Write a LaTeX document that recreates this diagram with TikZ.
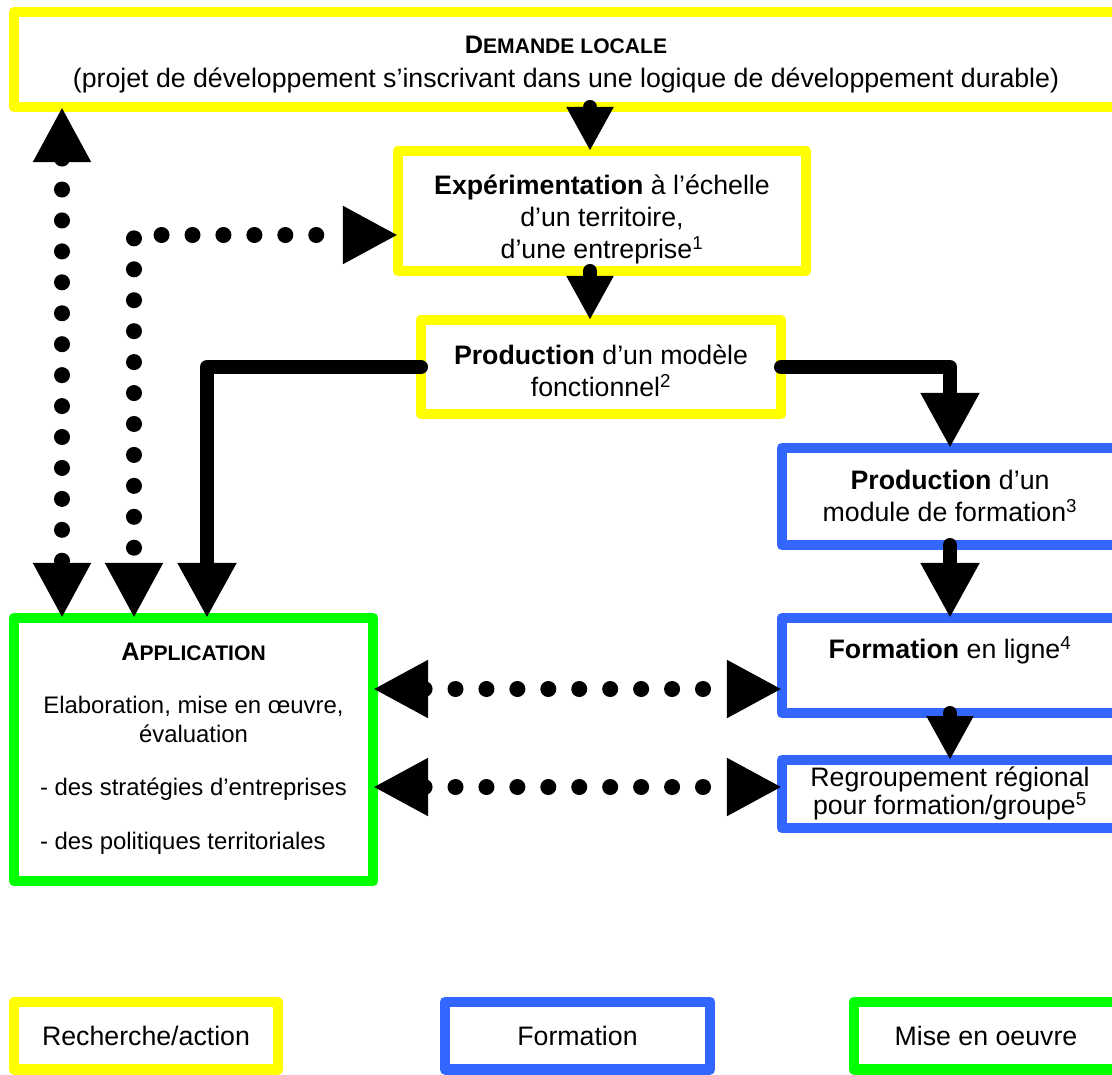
\documentclass[tikz,border=0pt]{standalone}
\usepackage{fontspec}
\setmainfont{Liberation Sans}
\usetikzlibrary{arrows.meta, positioning}
\definecolor{jaune}{RGB}{255,255,0}
\definecolor{bleu}{RGB}{51,102,255}
\definecolor{vert}{RGB}{0,255,0}
\newcommand{\petitcap}[2]{\textbf{{\fontsize{18}{21}\selectfont #1}{\fontsize{15}{18}\selectfont #2}}}
\tikzset{
	bloc/.style={draw=#1, line width=7.8pt, line join=round, fill=white, outer sep=0pt, inner sep=0pt, font=\fontsize{19}{22.8}\selectfont},
	taille/.style 2 args={minimum width=#1*0.025cm, minimum height=#2*0.025cm},
	fleche/.style={line width=10pt, line cap=round, line join=round, -{Triangle[length=1.375cm,width=1.375cm]}},
	petitefleche/.style={line width=10pt, line cap=round, -{Triangle[length=1.1cm,width=1.1cm]}},
	pointilles/.style={line width=11.4pt, line cap=round, dash pattern=on 0pt off 22pt, {Triangle[length=1.375cm,width=1.35cm]}-{Triangle[length=1.375cm,width=1.35cm]}}
}

\begin{document}
\begin{tikzpicture}[x=0.025cm, y=-0.025cm]
		\useasboundingbox (0,0) rectangle (1112,1074);
		
		\node[bloc=jaune, taille={1104}{95}] (demande) at (566,59.5){\begin{tabular}{c}\rule{0pt}{22.4pt}\petitcap{D}{EMANDE LOCALE}\\[1pt](projet de développement s’inscrivant dans une logique de développement durable)\end{tabular}};
		\node[bloc=jaune, taille={408}{120}] (experim) at (602,211){\begin{tabular}{c}\rule{0pt}{28.8pt}\textbf{Expérimentation} à l’échelle\\d’un territoire,\\d’une entreprise\textsuperscript{1}\end{tabular}};
		\node[bloc=jaune, taille={360}{94}] (prodmod) at (601,367){\begin{tabular}{c}\rule{0pt}{26pt}\textbf{Production} d’un modèle\\fonctionnel\textsuperscript{2}\end{tabular}};
		
		\node[bloc=bleu, taille={336}{97}] (prodform) at (950,496.5){\begin{tabular}{c}\rule{0pt}{20pt}\textbf{Production} d’un\\module de formation\textsuperscript{3}\end{tabular}};
		\node[bloc=bleu, taille={336}{95}] (enligne) at (950,665.5){\begin{tabular}{c}\rule{0pt}{20pt}\textbf{Formation} en ligne\textsuperscript{4}\\ \mbox{}\end{tabular}};
		\node[bloc=bleu, taille={336}{68}] (regroup) at (950,794){\begin{tabular}{c}Regroupement régional\\[-3pt]pour formation/groupe\textsuperscript{5}\end{tabular}};
		
		\node[bloc=vert, taille={359}{263}, font=\fontsize{17}{20.6}\selectfont] (appli) at (193.5,749.5){\begin{tabular}{c}\petitcap{A}{PPLICATION}\\[17pt]Elaboration, mise en œuvre,\\évaluation\\[17pt]\begin{tabular}[t]{@{}l@{}}- des stratégies d’entreprises\\[18pt]- des politiques territoriales\end{tabular}\end{tabular}};
		
		% legende
		\node[bloc=jaune, taille={264}{67}] (legrech) at (146,1035.5){Recherche/action};
		\node[bloc=bleu, taille={265}{67}] (legform) at (577.5,1035.5){Formation};
		\node[bloc=vert, taille={264}{67}] (legmise) at (986,1035.5){Mise en oeuvre};
		
		\coordinate (axe) at (590,0);
		\coordinate (coude) at (207,0);
		\coordinate (gauche) at (62,0);
		\coordinate (angle) at (134,235);
		\coordinate (lien1) at (0,689);
		\coordinate (lien2) at (0,787);
		
		\draw[petitefleche] (demande.south -| axe) -- (experim.north -| axe);
		\draw[petitefleche] (experim.south -| axe) -- (prodmod.north -| axe);
		\draw[fleche] (prodmod.west) -| (appli.north -| coude);
		\draw[fleche] (prodmod.east) -| (prodform.north);
		\draw[fleche] (prodform.south) -- (enligne.north);
		\draw[petitefleche] (enligne.south) -- (regroup.north);
		
		\draw[pointilles] (demande.south -| gauche) -- (appli.north -| gauche);
		\draw[pointilles, dash phase=8.7pt] (appli.north -| angle) -- (angle) -- (experim.west |- angle);
		\draw[pointilles] (appli.east |- lien1) -- (enligne.west |- lien1);
		\draw[pointilles] (appli.east |- lien2) -- (regroup.west |- lien2);
	\end{tikzpicture}
\end{document}
